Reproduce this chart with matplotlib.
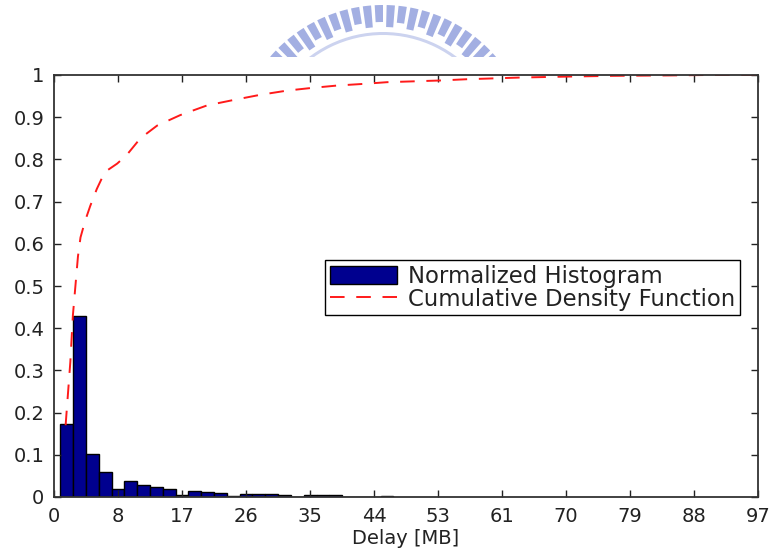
import matplotlib
matplotlib.use('Agg')
import matplotlib.pyplot as plt
import numpy as np
from matplotlib.patches import Wedge

plt.rcParams['font.family'] = ['DejaVu Sans']

# Normalized histogram (bin heights), bins of equal width starting at first_edge
first_edge = 0.87
bin_width = 1.765
hist_vals = [0.172, 0.430, 0.102, 0.060, 0.020, 0.037, 0.028, 0.023, 0.020, 0.005,
             0.014, 0.012, 0.009, 0.003, 0.006, 0.007, 0.007, 0.004, 0.001, 0.004,
             0.004, 0.004, 0.001, 0.001, 0.001, 0.002]

# Cumulative density function
cdf_x = [1.6, 2.25, 2.6, 2.95, 3.3, 3.65, 4.3, 5.0, 5.9, 7.0, 8.7, 10.0, 11.9, 14.2,
         17.4, 21.1, 24.8, 28.4, 32.1, 35.3, 39.0, 42.7, 45.9, 49.6, 53.2, 56.9,
         60.6, 64.3, 70.0, 77.0, 85.0, 90.0, 97.0]
cdf_y = [0.17, 0.32, 0.43, 0.50, 0.57, 0.615, 0.655, 0.69, 0.73, 0.77, 0.79, 0.81,
         0.85, 0.88, 0.905, 0.928, 0.941, 0.953, 0.963, 0.969, 0.975, 0.979, 0.983,
         0.985, 0.987, 0.990, 0.992, 0.994, 0.996, 0.998, 0.999, 1.0, 1.0]

x_labels = ['0', '8', '17', '26', '35', '44', '53', '61', '70', '79', '88', '97']
y_labels = ['0', '0.1', '0.2', '0.3', '0.4', '0.5', '0.6', '0.7', '0.8', '0.9', '1']

fig = plt.figure(figsize=(7.73, 5.52), dpi=100)

# faint logo watermark at the top (pixel coordinates, y measured from bottom)
wm = fig.add_axes([0, (552 - 57) / 552, 1, 57 / 552])
wm.set_xlim(0, 773)
wm.set_ylim(552 - 57, 552)
wm.axis('off')
cx, cy, R = 383, 552 - 154, 149
for i, ang in enumerate(np.arange(41, 140, 4.6)):
    length = 22 if i % 2 == 0 else 17
    wm.add_patch(Wedge((cx, cy), R, ang - 1.6, ang + 1.6, width=length,
                       color='#a3afe2', lw=0))
wm.add_patch(Wedge((cx, cy), R - 27, 38, 142, width=3, color='#ccd3ef', lw=0))

ax = fig.add_axes([54 / 773, 55 / 552, 704 / 773, 422 / 552])

centers = first_edge + bin_width * (np.arange(len(hist_vals)) + 0.5)
bars = ax.bar(centers, hist_vals, width=bin_width, color='#00008f', edgecolor='black',
              linewidth=1.0)
line, = ax.plot(cdf_x, cdf_y, color='#ff1a1a', linewidth=1.4, dashes=(7.5, 6))

ax.set_xlim(0, 97)
ax.set_ylim(0, 1)
ax.set_xticks(np.linspace(0, 97, 12))
ax.set_xticklabels(x_labels)
ax.set_yticks(np.linspace(0, 1, 11))
ax.set_yticklabels(y_labels)
ax.tick_params(direction='in', length=5, width=1, labelsize=14, colors='#222222',
               top=True, right=True, pad=7)
for s in ax.spines.values():
    s.set_color('#333333')
    s.set_linewidth(1.3)
ax.set_xlabel('Delay [MB]', fontsize=14, color='#222222', labelpad=2)

leg = ax.legend([bars, line], ['Normalized Histogram', 'Cumulative Density Function'],
                loc='upper left', bbox_to_anchor=(0.385, 0.5616), fontsize=16.4,
                fancybox=False, frameon=True, edgecolor='black', framealpha=1,
                borderaxespad=0, handlelength=2.95, handleheight=0.85,
                handletextpad=0.5, labelspacing=0.0, borderpad=0.2)
leg.get_frame().set_linewidth(1.0)
for t in leg.get_texts():
    t.set_color('#222222')

fig.savefig('out.png', dpi=100)
